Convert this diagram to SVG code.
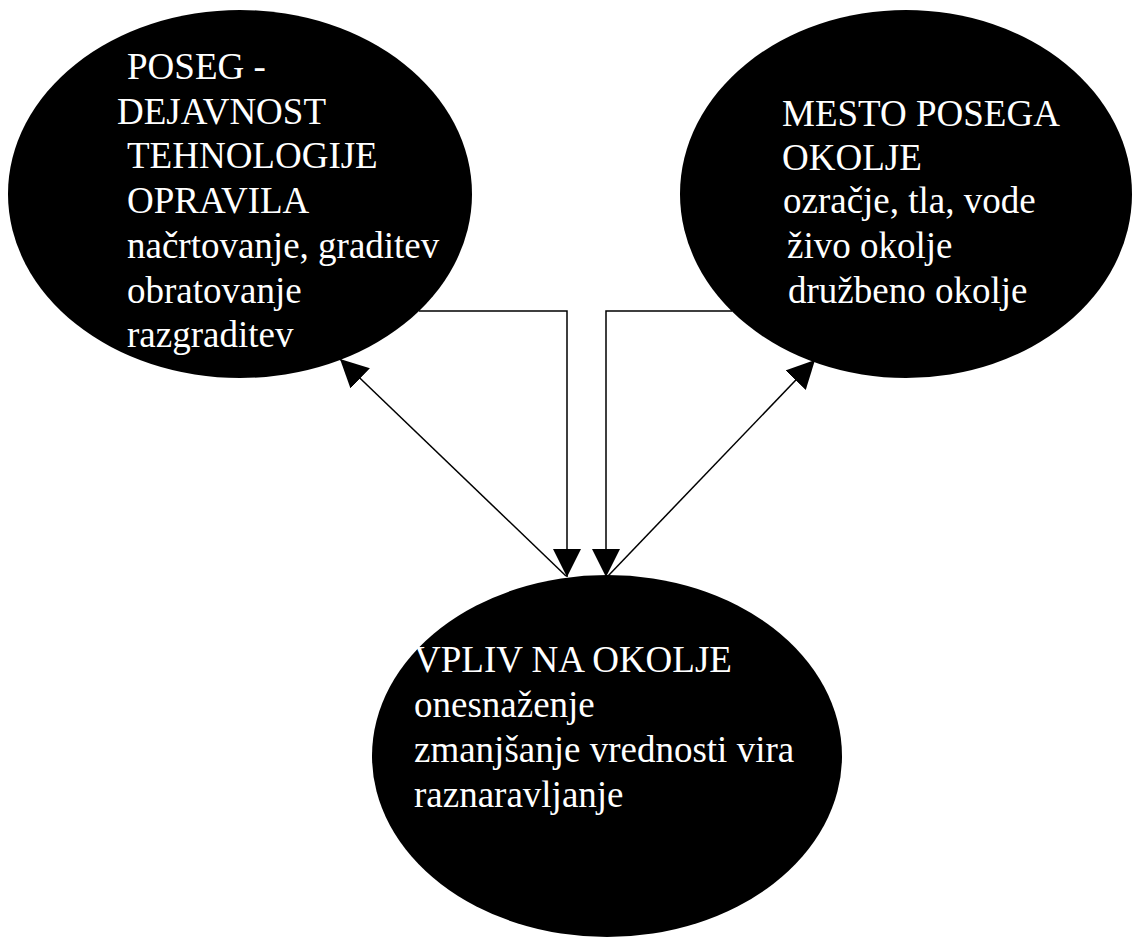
<svg xmlns="http://www.w3.org/2000/svg" width="1132" height="939" viewBox="0 0 1132 939">
<style>
.node{fill:#000}
.t{font-family:"Liberation Serif","Times New Roman",serif;font-size:37px;fill:#fff}
.c{fill:none;stroke:#000;stroke-width:1.5}
</style>
<defs>
<marker id="ah" viewBox="0 0 28 28" refX="28" refY="14" markerWidth="28" markerHeight="28" markerUnits="userSpaceOnUse" orient="auto">
<path d="M0,0 L28,14 L0,28 z" fill="#000"/>
</marker>
</defs>
<rect width="1132" height="939" fill="#fff"/>
<g id="node-poseg">
<ellipse class="node" cx="240" cy="194" rx="232" ry="184"/>
<text class="t" x="127" y="79">POSEG -</text>
<text class="t" x="117" y="124">DEJAVNOST</text>
<text class="t" x="127" y="168">TEHNOLOGIJE</text>
<text class="t" x="127" y="213">OPRAVILA</text>
<text class="t" x="127" y="258">načrtovanje, graditev</text>
<text class="t" x="127" y="303">obratovanje</text>
<text class="t" x="127" y="347">razgraditev</text>
</g>
<g id="node-mesto">
<ellipse class="node" cx="906" cy="194" rx="226" ry="184"/>
<text class="t" x="782" y="126">MESTO POSEGA</text>
<text class="t" x="782" y="170">OKOLJE</text>
<text class="t" x="783" y="213">ozračje, tla, vode</text>
<text class="t" x="787" y="258">živo okolje</text>
<text class="t" x="788" y="303">družbeno okolje</text>
</g>
<g id="node-vpliv">
<ellipse class="node" cx="607" cy="756" rx="235" ry="181"/>
<text class="t" x="414" y="672">VPLIV NA OKOLJE</text>
<text class="t" x="414" y="717">onesnaženje</text>
<text class="t" x="414" y="762">zmanjšanje vrednosti vira</text>
<text class="t" x="414" y="807">raznaravljanje</text>
</g>
<g id="connectors">
<polyline class="c" points="419,311 567,311 567,577" marker-end="url(#ah)"/>
<polyline class="c" points="732,311 606,311 606,577" marker-end="url(#ah)"/>
<line class="c" x1="566" y1="576" x2="340" y2="359" marker-end="url(#ah)"/>
<line class="c" x1="608" y1="576" x2="815" y2="360" marker-end="url(#ah)"/>
</g>
</svg>
